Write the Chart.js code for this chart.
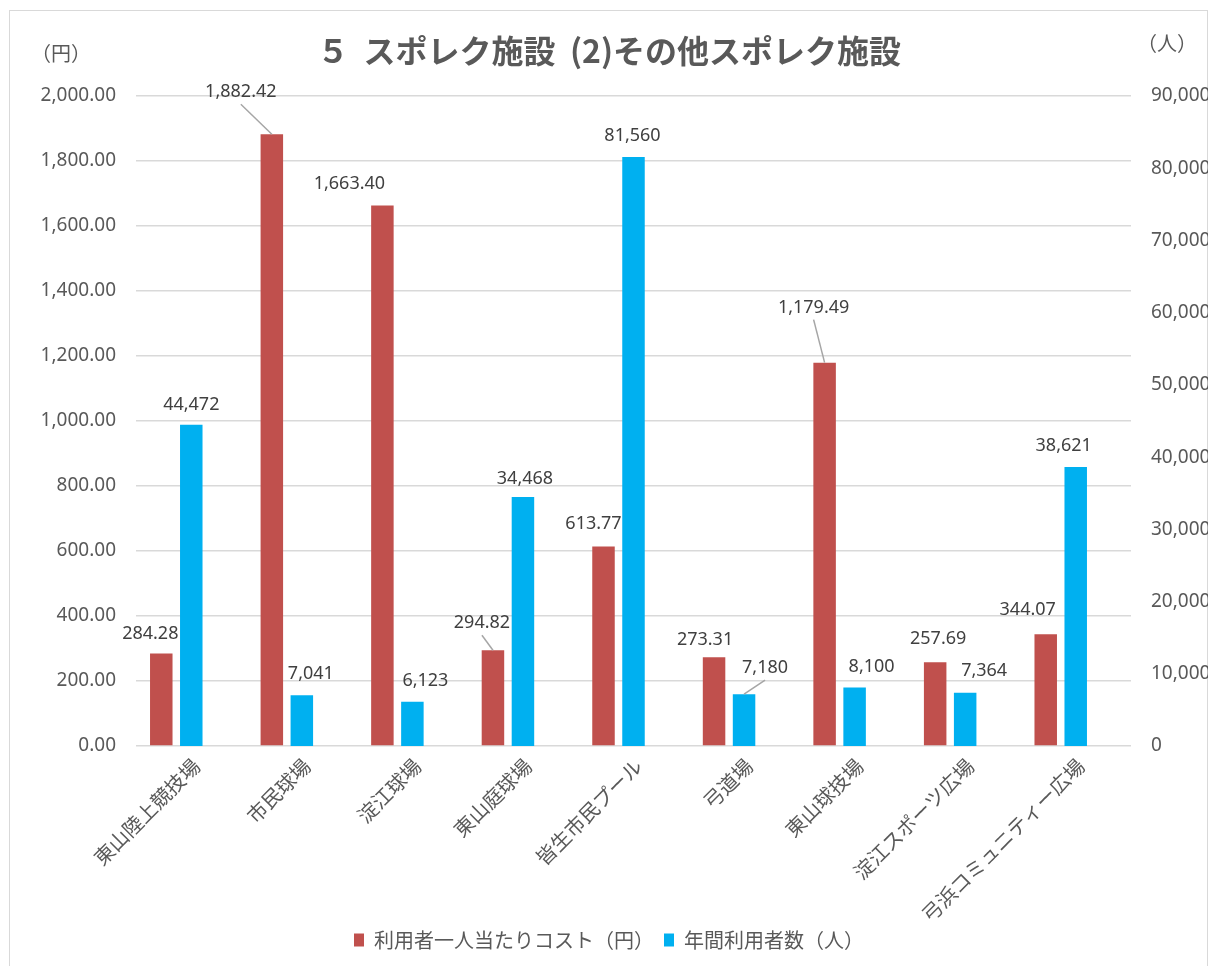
<!DOCTYPE html>
<html>
<head>
<meta charset="utf-8">
<script src="https://cdn.jsdelivr.net/npm/chart.js@4"></script>
<style>
  html, body { margin: 0; padding: 0; background: #fff; overflow: hidden; }
  #box {
    position: absolute; left: 9px; top: 10px;
    width: 1199px; height: 980px;
    border: 1.5px solid #d9d9d9; box-sizing: border-box;
  }
  #wrap { position: absolute; left: 0; top: 0; width: 1198px; height: 956px; }
</style>
</head>
<body>
<div id="box"><div id="wrap"><canvas id="bar_chart"></canvas></div></div>
<script>
// facility names (x axis)
const facilities = [
    "東山陸上競技場", "市民球場", "淀江球場", "東山庭球場", "皆生市民プール",
    "弓道場", "東山球技場", "淀江スポーツ広場", "弓浜コミュニティー広場"
];
// cost per user (yen), left axis
const costPerUser = [284.28, 1882.42, 1663.40, 294.82, 613.77, 273.31, 1179.49, 257.69, 344.07];
// annual users (people), right axis
const annualUsers = [44472, 7041, 6123, 34468, 81560, 7180, 8100, 7364, 38621];

const costLabel = "利用者一人当たりコスト（円）";
const usersLabel = "年間利用者数（人）";
const chartTitle = "５  スポレク施設  (2)その他スポレク施設";

// hand-moved data labels, as in the original workbook: [dx, dy] in px + leader line flag
const costLabelShift = [[-11, 0], [-31, -22], [-33, -2], [-11, -7], [-10, -3], [-9, 3], [-11, -35], [3, -3], [-18, -4]];
const costLeader = [false, true, false, true, false, false, true, false, false];
const usersLabelShift = [[0, 0], [9, -1], [13, -1], [2, 2], [-1, -1], [21, -6], [17, -1], [19, -2], [-12, -1]];
const usersLeader = [false, false, false, false, false, true, false, false, false];

const FONT = "'Noto Sans', 'Noto Sans CJK JP', sans-serif";
const JFONT = "'Noto Sans CJK JP', sans-serif";
const GREY = "#595959";

var ctx = document.getElementById('bar_chart').getContext('2d');

// draws the value labels above each bar, with leader lines where the label was moved away
const valueLabels = {
    id: 'valueLabels',
    afterDatasetsDraw(chart) {
        const c = chart.ctx;
        c.save();
        c.font = "18px " + FONT;
        c.fillStyle = "#404040";
        c.textAlign = "center";
        c.textBaseline = "middle";
        const sets = [
            { idx: 0, shift: costLabelShift, leader: costLeader,
              fmt: v => v.toLocaleString('en-US', { minimumFractionDigits: 2, maximumFractionDigits: 2 }) },
            { idx: 1, shift: usersLabelShift, leader: usersLeader,
              fmt: v => v.toLocaleString('en-US') }
        ];
        sets.forEach(s => {
            const meta = chart.getDatasetMeta(s.idx);
            const values = chart.data.datasets[s.idx].data;
            meta.data.forEach((bar, j) => {
                const x = bar.x + s.shift[j][0];
                const y = bar.y - 20 + s.shift[j][1];
                if (s.leader[j]) {
                    c.strokeStyle = "#a6a6a6";
                    c.lineWidth = 1.5;
                    c.beginPath();
                    c.moveTo(x, y + 12);
                    c.lineTo(bar.x, bar.y);
                    c.stroke();
                }
                c.fillText(s.fmt(values[j]), x, y);
            });
        });
        c.restore();
    }
};

// unit captions above both value axes
const unitCaptions = {
    id: 'unitCaptions',
    afterDraw(chart) {
        const c = chart.ctx;
        c.save();
        c.font = "20px " + JFONT;
        c.fillStyle = GREY;
        c.textAlign = "center";
        c.textBaseline = "middle";
        c.fillText("（円）", 51, 42);
        c.fillText("（人）", 1157, 32);
        c.restore();
    }
};

var barChart = new Chart(ctx, {
    type: "bar",
    data: {
        labels: facilities,
        datasets: [
            { label: costLabel, data: costPerUser, backgroundColor: "#c0504d", yAxisID: "y" },
            { label: usersLabel, data: annualUsers, backgroundColor: "#00b0f0", yAxisID: "y2" },
            // empty slot: Excel leaves a gap series to the right of the pair
            { label: "", data: facilities.map(() => null), backgroundColor: "rgba(0,0,0,0)", yAxisID: "y" }
        ]
    },
    options: {
        responsive: true,
        maintainAspectRatio: false,
        animation: false,
        categoryPercentage: 0.814,
        barPercentage: 0.75,
        layout: { padding: { top: 0, bottom: 7, left: 0, right: 0 } },
        plugins: {
            title: {
                display: true,
                text: chartTitle,
                color: GREY,
                font: { family: JFONT, size: 32, weight: "bold" },
                padding: { top: 21, bottom: 25.6 }
            },
            legend: {
                position: "bottom",
                labels: {
                    color: GREY,
                    font: { family: JFONT, size: 20 },
                    boxWidth: 10,
                    boxHeight: 13,
                    padding: 10,
                    filter: item => item.text !== ""
                }
            },
            tooltip: { enabled: false }
        },
        scales: {
            x: {
                grid: { display: false, drawTicks: false },
                border: { display: false },
                ticks: {
                    color: GREY,
                    font: { family: JFONT, size: 20 },
                    minRotation: 45,
                    maxRotation: 45,
                    autoSkip: false,
                    padding: 8,
                    labelOffset: 5
                },
                afterFit: scale => { scale.height = 174; }
            },
            y: {
                position: "left",
                min: 0,
                max: 2000,
                grid: { color: "#d9d9d9", lineWidth: 1.5, drawTicks: false },
                border: { display: false },
                ticks: {
                    stepSize: 200,
                    color: GREY,
                    font: { family: FONT, size: 19 },
                    padding: 20,
                    callback: v => v.toLocaleString('en-US', { minimumFractionDigits: 2, maximumFractionDigits: 2 })
                },
                afterFit: scale => { scale.width = 126; }
            },
            y2: {
                position: "right",
                min: 0,
                max: 90000,
                grid: { display: false, drawTicks: false },
                border: { display: false },
                ticks: {
                    stepSize: 10000,
                    color: GREY,
                    font: { family: FONT, size: 19 },
                    padding: 20,
                    callback: v => v.toLocaleString('en-US')
                },
                afterFit: scale => { scale.width = 77; }
            }
        }
    },
    plugins: [valueLabels, unitCaptions]
});
</script>
</body>
</html>
